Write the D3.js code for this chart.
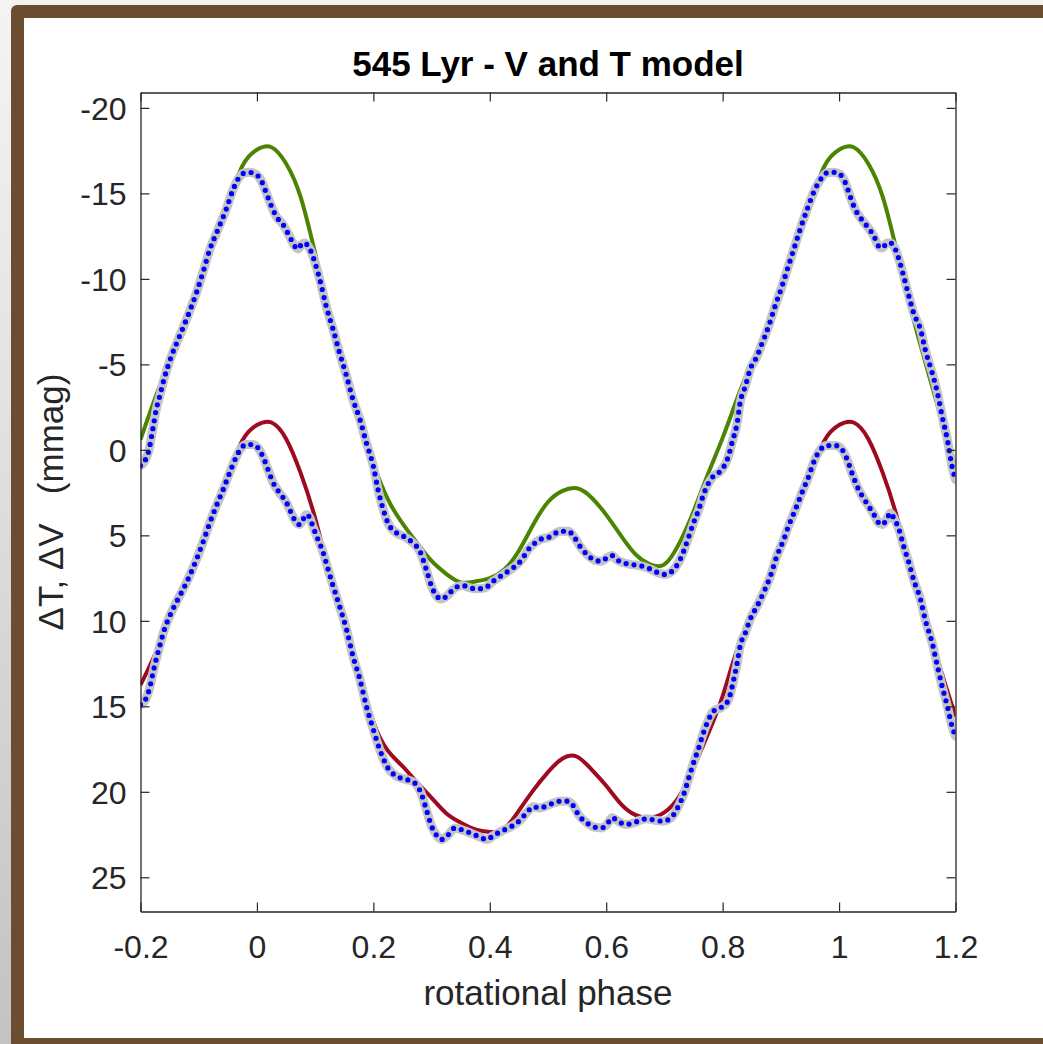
<!DOCTYPE html>
<html>
<head>
<meta charset="utf-8">
<script src="https://cdn.jsdelivr.net/npm/d3@7"></script>
<style>
  html, body { margin: 0; padding: 0; background: #f3f3f3; }
  svg { display: block; }
  text { font-family: "Liberation Sans", Arial, Helvetica, sans-serif; }
</style>
</head>
<body>
<svg id="chart" width="1043" height="1044"></svg>
<script>
// model curves (V upper, T lower), sampled along rotational phase
const modelPhase = [-0.2,-0.175,-0.15,-0.125,-0.1,-0.075,-0.05,-0.025,0,0.025,0.05,0.075,0.1,0.125,0.15,0.175,0.2,0.225,0.25,0.275,0.3,0.325,0.35,0.375,0.4,0.425,0.45,0.475,0.5,0.525,0.55,0.575,0.6,0.625,0.65,0.675,0.7,0.725,0.75,0.775,0.8,0.825,0.85,0.875,0.9,0.925,0.95,0.975,1,1.025,1.05,1.075,1.1,1.125,1.15,1.175,1.2];
const vModel = [-0.6,-3.0,-5.1,-7.0,-9.5,-12.1,-14.4,-16.6,-17.55,-17.7,-16.75,-14.8,-11.5,-8.0,-4.9,-1.9,0.8,2.9,4.3,5.45,6.5,7.25,7.75,7.7,7.5,7.0,5.9,4.35,3.05,2.4,2.25,2.8,3.8,5.0,6.1,6.7,6.7,5.5,3.6,1.4,-0.7,-3.0,-5.1,-7.0,-9.5,-12.1,-14.4,-16.6,-17.55,-17.7,-16.75,-14.8,-11.5,-8.0,-4.9,-1.9,0.9];
const tModel = [13.75,11.95,9.9,8.0,5.9,3.7,1.5,-0.55,-1.45,-1.6,-0.65,1.35,4.0,7.3,10.05,12.9,15.9,17.6,18.5,19.45,20.35,21.25,21.8,22.2,22.35,22.15,21.1,19.9,18.85,18.05,17.95,18.7,19.65,20.7,21.35,21.52,21.2,20.3,18.6,16.6,14.4,11.7,9.9,8.0,5.9,3.7,1.5,-0.55,-1.45,-1.6,-0.65,1.35,4.0,7.3,10.05,12.9,15.6];

// observed V light curve
const vDataPhase = [-0.200,-0.193,-0.186,-0.179,-0.173,-0.167,-0.159,-0.147,-0.133,-0.119,-0.104,-0.093,-0.081,-0.067,-0.053,-0.041,-0.033,-0.024,-0.013,-0.001,0.008,0.016,0.025,0.033,0.045,0.056,0.065,0.071,0.076,0.082,0.088,0.094,0.099,0.108,0.119,0.131,0.142,0.154,0.165,0.177,0.188,0.200,0.208,0.217,0.225,0.240,0.257,0.268,0.280,0.291,0.300,0.309,0.317,0.326,0.337,0.346,0.354,0.366,0.377,0.392,0.406,0.423,0.440,0.455,0.466,0.478,0.486,0.503,0.521,0.535,0.544,0.555,0.567,0.581,0.592,0.601,0.610,0.618,0.630,0.644,0.658,0.675,0.690,0.701,0.713,0.724,0.733,0.741,0.750,0.759,0.767,0.776,0.784,0.796,0.804,0.810,0.816,0.825,0.830,0.839,0.847,0.859,0.868,0.879,0.890,0.902,0.911,0.922,0.933,0.945,0.956,0.968,0.979,0.991,1.002,1.011,1.019,1.028,1.037,1.048,1.060,1.068,1.074,1.083,1.088,1.097,1.103,1.111,1.120,1.128,1.140,1.148,1.160,1.169,1.177,1.186,1.194,1.200];
const vData = [0.93,0.67,0.08,-1.19,-2.36,-3.14,-4.21,-5.47,-6.64,-7.81,-9.18,-10.35,-11.71,-12.88,-14.05,-15.22,-15.81,-16.16,-16.23,-16.10,-15.71,-15.03,-14.25,-13.66,-13.17,-12.49,-11.91,-11.75,-12.00,-12.10,-11.91,-11.52,-11.03,-9.96,-8.40,-7.03,-5.67,-4.31,-2.94,-1.77,-0.41,0.96,2.32,3.49,4.27,4.86,5.15,5.44,5.93,7.00,7.98,8.56,8.72,8.56,8.17,7.98,7.94,8.07,8.13,8.07,7.68,7.29,6.90,6.42,5.83,5.44,5.25,5.09,4.76,4.76,5.05,5.64,6.12,6.46,6.51,6.32,6.18,6.42,6.61,6.71,6.77,6.96,7.20,7.29,7.10,6.61,5.93,5.15,4.27,3.49,2.62,1.93,1.54,1.25,0.86,0.37,-0.41,-1.58,-2.75,-3.72,-4.69,-5.47,-6.25,-7.23,-8.40,-9.57,-10.54,-11.71,-12.88,-14.05,-15.03,-15.81,-16.20,-16.23,-16.10,-15.61,-14.83,-14.05,-13.56,-13.08,-12.49,-11.91,-11.81,-12.10,-12.10,-11.71,-11.13,-10.15,-8.98,-8.01,-7.03,-5.86,-4.50,-3.33,-1.97,-0.60,0.96,1.74];

// observed T light curve
const tDataPhase = [-0.200,-0.193,-0.185,-0.176,-0.167,-0.159,-0.150,-0.139,-0.127,-0.116,-0.104,-0.093,-0.081,-0.070,-0.058,-0.047,-0.035,-0.027,-0.018,-0.007,0.002,0.010,0.019,0.028,0.039,0.051,0.059,0.068,0.073,0.079,0.085,0.091,0.096,0.105,0.114,0.119,0.131,0.142,0.154,0.165,0.177,0.188,0.200,0.211,0.225,0.240,0.257,0.271,0.283,0.291,0.300,0.310,0.317,0.329,0.340,0.351,0.366,0.380,0.395,0.406,0.420,0.438,0.452,0.463,0.475,0.486,0.503,0.521,0.535,0.544,0.552,0.567,0.578,0.592,0.601,0.610,0.621,0.632,0.647,0.658,0.670,0.684,0.698,0.707,0.716,0.724,0.733,0.741,0.750,0.759,0.767,0.776,0.784,0.796,0.807,0.813,0.819,0.825,0.830,0.839,0.847,0.859,0.870,0.882,0.893,0.905,0.913,0.925,0.936,0.948,0.956,0.968,0.979,0.994,1.005,1.014,1.022,1.031,1.040,1.051,1.060,1.068,1.074,1.083,1.088,1.094,1.103,1.111,1.120,1.128,1.140,1.148,1.160,1.169,1.177,1.186,1.194,1.200];
const tData = [14.90,14.70,14.02,12.65,11.48,10.51,9.73,8.95,8.17,7.39,6.42,5.44,4.27,3.30,2.32,1.35,0.37,-0.11,-0.31,-0.31,-0.11,0.37,1.15,1.93,2.52,3.10,3.69,4.27,4.37,4.08,3.79,3.98,4.47,5.25,6.03,6.61,7.98,9.15,10.51,12.07,13.43,14.99,16.36,17.53,18.60,19.09,19.28,19.48,20.16,21.04,22.01,22.60,22.79,22.50,22.11,22.21,22.40,22.60,22.79,22.56,22.30,22.01,21.66,21.23,20.88,20.94,20.74,20.55,20.55,20.84,21.33,21.82,22.05,22.11,21.91,21.52,21.72,21.91,21.82,21.66,21.58,21.66,21.72,21.62,21.33,20.84,20.16,19.28,18.31,17.43,16.55,15.77,15.29,15.09,14.80,14.31,13.43,12.46,11.48,10.71,9.93,9.15,8.37,7.39,6.22,5.25,4.47,3.49,2.52,1.54,0.76,-0.02,-0.25,-0.25,-0.02,0.57,1.35,2.13,2.71,3.30,3.79,4.27,4.37,3.98,3.69,3.98,4.66,5.64,6.61,7.59,8.76,9.93,11.29,12.65,13.82,14.99,16.16,16.75];

const xTicks = [-0.2, 0, 0.2, 0.4, 0.6, 0.8, 1, 1.2];
const xTickLabels = ["-0.2", "0", "0.2", "0.4", "0.6", "0.8", "1", "1.2"];
const yTicks = [-20, -15, -10, -5, 0, 5, 10, 15, 20, 25];
const yTickLabels = ["-20", "-15", "-10", "-5", "0", "5", "10", "15", "20", "25"];

const svg = d3.select("#chart");
const W = 1043, H = 1044;

// page background + brown frame
const defs = svg.append("defs");
const side = defs.append("linearGradient").attr("id", "side")
  .attr("x1", 0).attr("y1", 0).attr("x2", 0).attr("y2", 1);
side.append("stop").attr("offset", "0%").attr("stop-color", "#f4f4f4");
side.append("stop").attr("offset", "35%").attr("stop-color", "#e4e4e4");
side.append("stop").attr("offset", "100%").attr("stop-color", "#c3c3c3");

svg.append("rect").attr("width", W).attr("height", H).attr("fill", "#f3f3f3");
svg.append("rect").attr("x", 0).attr("y", 0).attr("width", 12).attr("height", H).attr("fill", "url(#side)");
svg.append("rect").attr("x", 11).attr("y", 5).attr("width", W + 20).attr("height", H + 20)
  .attr("rx", 6).attr("fill", "#6c4d2f");
svg.append("rect").attr("x", 24).attr("y", 18).attr("width", W - 24).attr("height", 1020).attr("fill", "#fff");

// plot box
const boxL = 140.5, boxR = 955.5, boxT = 92.5, boxB = 911.5;
const x = d3.scaleLinear().domain([-0.2, 1.2]).range([boxL, boxR]);
const y = d3.scaleLinear().domain([-20.9, 27]).range([boxT, boxB]);

defs.append("clipPath").attr("id", "plotclip")
  .append("rect").attr("x", boxL).attr("y", boxT).attr("width", boxR - boxL).attr("height", boxB - boxT);

const axisColor = "#262626";
const fontTick = 32, fontLabel = 35;

function styleAxis(g) {
  g.attr("color", axisColor).attr("font-family", null).attr("font-size", null);
  g.selectAll(".domain").attr("stroke-width", 1.3);
  g.selectAll(".tick line").attr("stroke-width", 1.2);
  g.selectAll("text").attr("font-size", fontTick).attr("fill", axisColor);
}

// curves (under the axes)
const plot = svg.append("g").attr("clip-path", "url(#plotclip)");
const modelLine = d3.line().x(d => x(d[0])).y(d => y(d[1])).curve(d3.curveNatural);
const dataLine = d3.line().x(d => x(d[0])).y(d => y(d[1])).curve(d3.curveMonotoneX);

plot.append("path").datum(d3.zip(modelPhase, vModel)).attr("d", modelLine)
  .attr("fill", "none").attr("stroke", "#4b8400").attr("stroke-width", 4);
plot.append("path").datum(d3.zip(modelPhase, tModel)).attr("d", modelLine)
  .attr("fill", "none").attr("stroke", "#9e0a1f").attr("stroke-width", 4);

[d3.zip(vDataPhase, vData), d3.zip(tDataPhase, tData)].forEach(series => {
  plot.append("path").datum(series).attr("d", dataLine)
    .attr("fill", "none").attr("stroke", "#c4c4c4").attr("stroke-width", 9)
    .attr("stroke-linecap", "round").attr("stroke-linejoin", "round");
  plot.append("path").datum(series).attr("d", dataLine)
    .attr("fill", "none").attr("stroke", "#0000ff").attr("stroke-width", 5.2)
    .attr("stroke-linecap", "round").attr("stroke-dasharray", "0 8");
});

const gxb = svg.append("g").attr("transform", `translate(0,${boxB})`)
  .call(d3.axisBottom(x).tickValues(xTicks).tickFormat((d, i) => xTickLabels[i])
    .tickSizeInner(-9).tickSizeOuter(0));
styleAxis(gxb);
gxb.selectAll("text").attr("y", 46).attr("dy", null);

const gxt = svg.append("g").attr("transform", `translate(0,${boxT})`)
  .call(d3.axisTop(x).tickValues(xTicks).tickFormat("").tickSizeInner(-9).tickSizeOuter(0));
styleAxis(gxt);

const gyl = svg.append("g").attr("transform", `translate(${boxL},0)`)
  .call(d3.axisLeft(y).tickValues(yTicks).tickFormat((d, i) => yTickLabels[i])
    .tickSizeInner(-9).tickSizeOuter(0));
styleAxis(gyl);
gyl.selectAll("text").attr("x", -14).attr("y", 11.5).attr("dy", null);

const gyr = svg.append("g").attr("transform", `translate(${boxR},0)`)
  .call(d3.axisRight(y).tickValues(yTicks).tickFormat("").tickSizeInner(-9).tickSizeOuter(0));
styleAxis(gyr);

// titles
svg.append("text").attr("x", (boxL + boxR) / 2).attr("y", 76)
  .attr("text-anchor", "middle").attr("font-size", fontLabel).attr("font-weight", "bold")
  .attr("fill", "#000").text("545 Lyr - V and T model");

svg.append("text").attr("x", (boxL + boxR) / 2).attr("y", 1005)
  .attr("text-anchor", "middle").attr("font-size", fontLabel).attr("fill", axisColor)
  .text("rotational phase");

svg.append("text").attr("transform", `translate(63,${(boxT + boxB) / 2}) rotate(-90)`)
  .attr("text-anchor", "middle").attr("font-size", fontLabel).attr("fill", axisColor)
  .text("\u0394T, \u0394V\u00a0\u00a0\u00a0(mmag)");
</script>
</body>
</html>
